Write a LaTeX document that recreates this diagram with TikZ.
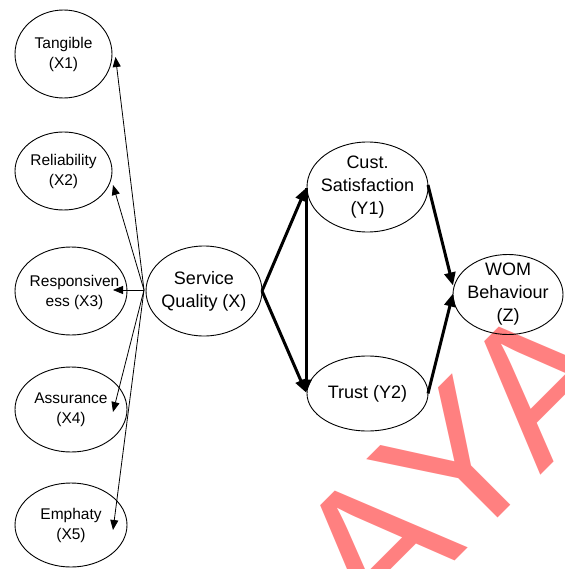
\documentclass[tikz,border=0pt]{standalone}
\usepackage{fontspec}
\setmainfont{Liberation Sans}
\usetikzlibrary{shapes.geometric,arrows.meta,calc}
\definecolor{wmred}{RGB}{255,128,128}
\begin{document}
\begin{tikzpicture}[x=1pt,y=-1pt,
  construct/.style={draw, ellipse, inner sep=0pt, outer sep=0pt, line width=0.9pt},
  smalltext/.style={inner sep=0pt, align=center, font=\fontsize{15.5}{20}\selectfont},
  bigtext/.style={inner sep=0pt, align=center, font=\fontsize{18}{23}\selectfont},
  thinarrow/.style={-{Triangle[length=10pt,width=8pt]}, line width=0.8pt},
  thickarrow/.style={-{Triangle[length=13pt,width=11pt]}, line width=3pt},
]
\useasboundingbox (0,0) rectangle (564,569);

% watermark behind the model
\begin{scope}
  \clip (0,0) rectangle (564,569);
  \node[rotate=45, text=wmred, inner sep=0pt,
        font=\fontsize{195}{195}\selectfont] (wm) at (457,464) {AYA};
\end{scope}

% service quality dimensions
\node[construct, minimum width=97pt, minimum height=88pt] (x1) at (63.5,54) {};
\node[smalltext] (x1t) at (x1.center) {Tangible\\(X1)};
\node[construct, minimum width=97pt, minimum height=78pt] (x2) at (63.5,171) {};
\node[smalltext] (x2t) at (x2.center) {Reliability\\(X2)};
\node[construct, minimum width=112pt, minimum height=88pt] (x3) at (71,291) {};
\node[smalltext] (x3t) at ($(x3.center)+(3.5,1)$) {Responsiven\\ess (X3)};
\node[construct, minimum width=112pt, minimum height=85pt] (x4) at (71,409.5) {};
\node[smalltext] (x4t) at (x4.center) {Assurance\\(X4)};
\node[construct, minimum width=112pt, minimum height=84pt] (x5) at (71,525) {};
\node[smalltext] (x5t) at (x5.center) {Emphaty\\(X5)};

% main constructs
\node[construct, minimum width=116pt, minimum height=90pt] (sq) at (204,291) {};
\node[bigtext] (sqt) at (sq.center) {Service\\Quality (X)};
\node[construct, minimum width=121pt, minimum height=90pt] (cs) at (367.5,187) {};
\node[bigtext] (cst) at (cs.center) {Cust.\\Satisfaction\\(Y1)};
\node[construct, minimum width=121pt, minimum height=75pt] (tr) at (367.5,393.5) {};
\node[bigtext] (trt) at (tr.center) {Trust (Y2)};
\node[construct, minimum width=110pt, minimum height=80pt] (wom) at (508,294.5) {};
\node[bigtext] (womt) at (wom.center) {WOM\\Behaviour\\(Z)};

% reflective indicators of service quality
\coordinate (sqw) at ($(sq.west)+(-2,-1)$);
\draw[thinarrow] (sqw) -- ($(x1.center)+(52,3)$);
\draw[thinarrow] (sqw) -- ($(x2.center)+(49.5,14)$);
\draw[thinarrow] (sqw) -- ($(x3.center)+(42,-1)$);
\draw[thinarrow] (sqw) -- ($(x4.center)+(42,2.5)$);
\draw[thinarrow] (sqw) -- ($(x5.center)+(42,5)$);

% structural paths
\draw[thickarrow] (sq.east) -- ($(cs.west)+(-1,1)$);
\draw[thickarrow] (sq.east) -- ($(tr.west)+(-1,-1)$);
\draw[thickarrow] ($(cs.west)+(-1,1)$) -- ($(tr.west)+(-1,-1)$);
\draw[thickarrow] ($(cs.east)+(0,-2)$) -- ($(wom.west)+(0,-9)$);
\draw[thickarrow] (tr.east) -- ($(wom.west)+(0,-1)$);
\end{tikzpicture}
\end{document}
